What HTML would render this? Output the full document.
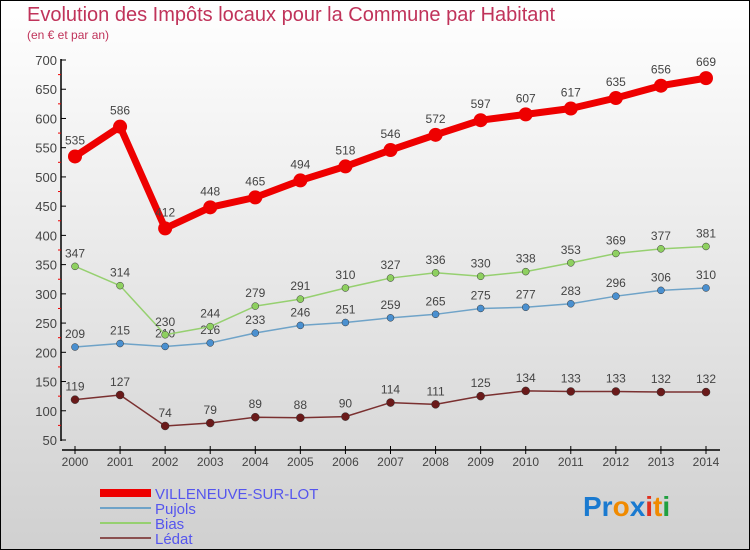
<!DOCTYPE html>
<html><head><meta charset="utf-8"><style>
body{margin:0;}
svg{display:block;font-family:"Liberation Sans",sans-serif;}
</style></head><body>
<svg id="c" width="750" height="550" xmlns="http://www.w3.org/2000/svg">
<defs><linearGradient id="bg" x1="0" y1="0" x2="0" y2="1"><stop offset="0" stop-color="#ffffff"/><stop offset="1" stop-color="#d0d0d0"/></linearGradient></defs>
<rect x="0.5" y="0.5" width="749" height="549" fill="url(#bg)" stroke="#000"/>
<text x="27" y="21" font-size="20" fill="#c0335a">Evolution des Impôts locaux pour la Commune par Habitant</text>
<text x="27" y="39" font-size="12" fill="#c0335a">(en € et par an)</text>
<g id="axes"></g>
<g id="series"></g>
<g>
<rect x="100" y="489" width="51" height="8" fill="#e00"/>
<text x="155" y="499" font-size="15" fill="#5555ee">VILLENEUVE-SUR-LOT</text>
<line x1="100" y1="508" x2="151" y2="508" stroke="#6fa3c8" stroke-width="2"/>
<text x="155" y="514" font-size="15" fill="#5555ee">Pujols</text>
<line x1="100" y1="523" x2="151" y2="523" stroke="#96d070" stroke-width="2"/>
<text x="155" y="529" font-size="15" fill="#5555ee">Bias</text>
<line x1="100" y1="538" x2="151" y2="538" stroke="#8a5050" stroke-width="2"/>
<text x="155" y="544" font-size="15" fill="#5555ee">Lédat</text>
</g>
<text x="583" y="516" font-size="28" font-weight="bold" font-family="'Liberation Sans',sans-serif"><tspan fill="#1a7ad0">Pr</tspan><tspan fill="#f08a00">o</tspan><tspan fill="#1a7ad0">x</tspan><tspan fill="#e03020">i</tspan><tspan fill="#f08a00">t</tspan><tspan fill="#20a040">i</tspan></text>
</svg>
<script>
const years=[2000,2001,2002,2003,2004,2005,2006,2007,2008,2009,2010,2011,2012,2013,2014];
const villeneuve=[535,586,412,448,465,494,518,546,572,597,607,617,635,656,669];
const pujols=[209,215,210,216,233,246,251,259,265,275,277,283,296,306,310];
const bias=[347,314,230,244,279,291,310,327,336,330,338,353,369,377,381];
const ledat=[119,127,74,79,89,88,90,114,111,125,134,133,133,132,132];
const yTicks=[50,100,150,200,250,300,350,400,450,500,550,600,650,700];
const NS="http://www.w3.org/2000/svg";
const X=i=>75+i*(706-75)/(years.length-1);
const Y=v=>440-(v-50)*(380/650);
function mk(t,a,p){const e=document.createElementNS(NS,t);for(const k in a)e.setAttribute(k,a[k]);p.appendChild(e);return e;}
const ax=document.getElementById('axes');
const yl=mk('line',{x1:61,y1:59,x2:61,y2:441,stroke:'#000','stroke-width':1.5},ax);


yTicks.forEach(v=>{
  mk('line',{x1:61,y1:Y(v),x2:66,y2:Y(v),stroke:'#000'},ax);
  if(v<700)mk('line',{x1:58,y1:Y(v+25),x2:61,y2:Y(v+25),stroke:'#e00'},ax);
  const t=mk('text',{x:57,y:Y(v)+5,'text-anchor':'end','font-size':13,fill:'#444'},ax);
  t.textContent=v;
  
  
});
const xl=mk('line',{x1:62,y1:450,x2:720,y2:450,stroke:'#000','stroke-width':1.5},ax);


years.forEach((y,i)=>{
  mk('line',{x1:X(i),y1:446,x2:X(i),y2:454,stroke:'#000'},ax);
  const t=mk('text',{x:X(i),y:466,'text-anchor':'middle','font-size':12,fill:'#444'},ax);
  t.textContent=y;
  
  
});
const sg=document.getElementById('series');
function series(name,vals,col,w,r,dot){
  const g=mk('g',{},sg);
  
  
  const pl=mk('polyline',{points:vals.map((v,i)=>X(i)+','+Y(v)).join(' '),fill:'none',stroke:col,'stroke-width':w,'stroke-linejoin':'round'},g);
  
  
  vals.forEach((v,i)=>{
    const c=mk('circle',{cx:X(i),cy:Y(v),r:r,fill:dot,stroke:w>3?'none':'#333','stroke-width':0.5},g);
    
    
    const t=mk('text',{x:X(i),y:Y(v)-(w>3?12:9),'text-anchor':'middle','font-size':12,fill:'#444'},g);
    t.textContent=v;
    
    
  });
}
series('ledat',ledat,'#7a3030',1.5,4,'#6a1a1a');
series('pujols',pujols,'#6fa3c8',1.5,3.5,'#4a90d0');
series('bias',bias,'#96d070',1.5,3.5,'#8ed060');
series('villeneuve',villeneuve,'#e00',7,7,'#e00');
</script>
</body></html>
